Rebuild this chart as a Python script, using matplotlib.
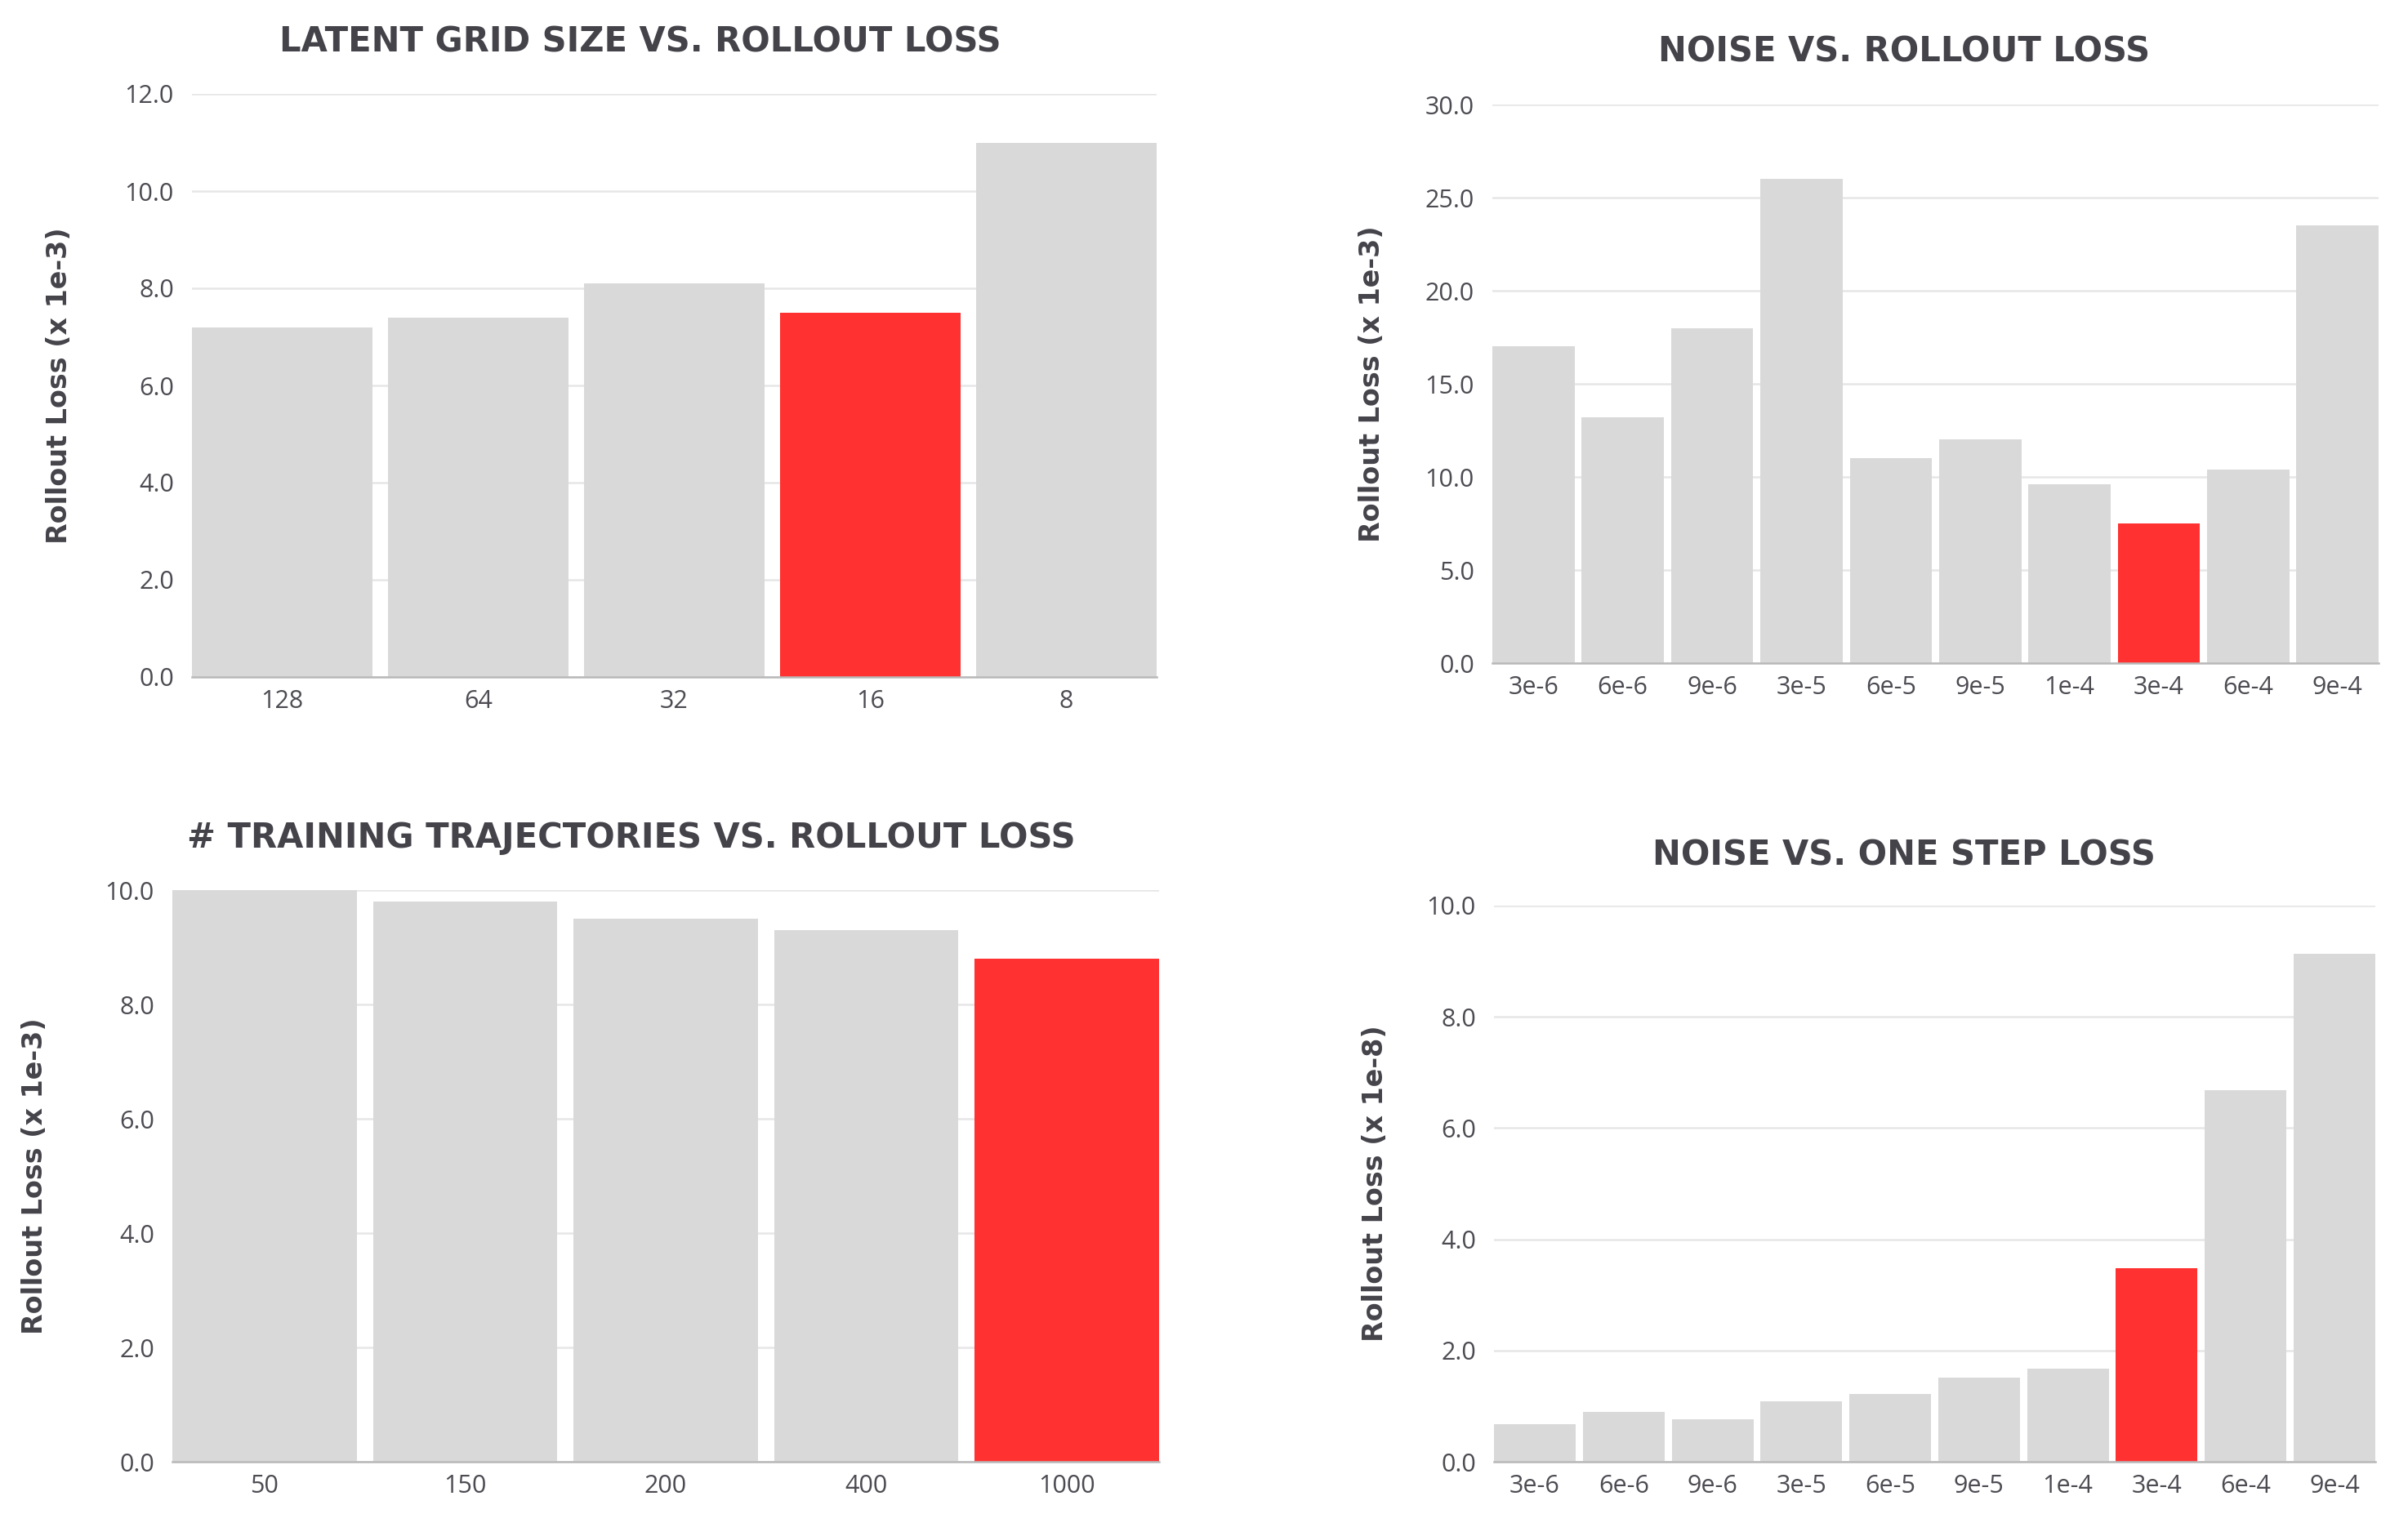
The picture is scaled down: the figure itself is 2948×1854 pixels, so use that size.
import matplotlib.pyplot as plt
import numpy as np

W, H = 2948, 1854
GREY = "#d9d9d9"
RED = "#ff3131"
TEXT = "#45434a"
TICK = "#4d4b52"

grid_labels = ["128", "64", "32", "16", "8"]
grid_loss = [7.2, 7.4, 8.1, 7.5, 11.0]

noise_labels = ["3e-6", "6e-6", "9e-6", "3e-5", "6e-5", "9e-5", "1e-4", "3e-4", "6e-4", "9e-4"]
noise_rollout = [17.0, 13.2, 18.0, 26.0, 11.0, 12.0, 9.6, 7.5, 10.4, 23.5]
noise_onestep = [0.67, 0.90, 0.76, 1.08, 1.22, 1.51, 1.68, 3.48, 6.68, 9.13]

traj_labels = ["50", "150", "200", "400", "1000"]
traj_loss = [10.0, 9.8, 9.5, 9.3, 8.8]

plt.rcParams["font.family"] = ["DejaVu Sans"]


def px_box(left, right, top, bottom):
    return [left / W, 1 - bottom / H, (right - left) / W, (bottom - top) / H]


def bar_panel(fig, box, labels, values, best, ymax, step, title, title_xy, ylabel, ylabel_x):
    ax = fig.add_axes(px_box(*box))
    n = len(values)
    width = 0.92
    colors = [RED if i == best else GREY for i in range(n)]
    ax.bar(np.arange(n), values, width=width, color=colors, zorder=2)
    ax.set_xlim(-width / 2, n - 1 + width / 2)
    ax.set_ylim(0, ymax)
    ticks = np.arange(0, ymax + step / 2, step)
    ax.set_yticks(ticks)
    ax.set_yticklabels([f"{t:.1f}" for t in ticks])
    ax.set_xticks(np.arange(n))
    ax.set_xticklabels(labels)
    ax.grid(axis="y", color="#e6e6e6", linewidth=1.8, zorder=0)
    ax.set_axisbelow(True)
    for side in ["top", "right", "left"]:
        ax.spines[side].set_visible(False)
    ax.spines["bottom"].set_color("#b8b8b8")
    ax.spines["bottom"].set_linewidth(1.8)
    ax.tick_params(axis="both", length=0, labelsize=22, labelcolor=TICK)
    ax.tick_params(axis="y", pad=16)
    ax.tick_params(axis="x", pad=11)
    for lab in ax.get_xticklabels() + ax.get_yticklabels():
        lab.set_family(["Open Sans", "DejaVu Sans"])
    fig.text(title_xy[0] / W, 1 - title_xy[1] / H, title, ha="center", va="center",
             fontsize=30, fontweight="bold", color=TEXT)
    cy = (box[2] + box[3]) / 2
    fig.text(ylabel_x / W, 1 - cy / H, ylabel, ha="center", va="center", rotation=90,
             fontsize=24, fontweight="bold", color=TEXT)
    return ax


fig = plt.figure(figsize=(W / 100, H / 100), dpi=100)
fig.patch.set_facecolor("white")

bar_panel(fig, (235, 1416, 115, 829), grid_labels, grid_loss, 3, 12, 2,
          "LATENT GRID SIZE VS. ROLLOUT LOSS", (784, 51), "Rollout Loss (x 1e-3)", 73)
bar_panel(fig, (1827, 2912, 128, 812), noise_labels, noise_rollout, 7, 30, 5,
          "NOISE VS. ROLLOUT LOSS", (2331, 64), "Rollout Loss (x 1e-3)", 1680)
bar_panel(fig, (211, 1419, 1090, 1790), traj_labels, traj_loss, 4, 10, 2,
          "# TRAINING TRAJECTORIES VS. ROLLOUT LOSS", (773, 1026), "Rollout Loss (x 1e-3)", 43)
bar_panel(fig, (1829, 2908, 1109, 1790), noise_labels, noise_onestep, 7, 10, 2,
          "NOISE VS. ONE STEP LOSS", (2331, 1047), "Rollout Loss (x 1e-8)", 1684)

fig.savefig("out.png", dpi=100)
